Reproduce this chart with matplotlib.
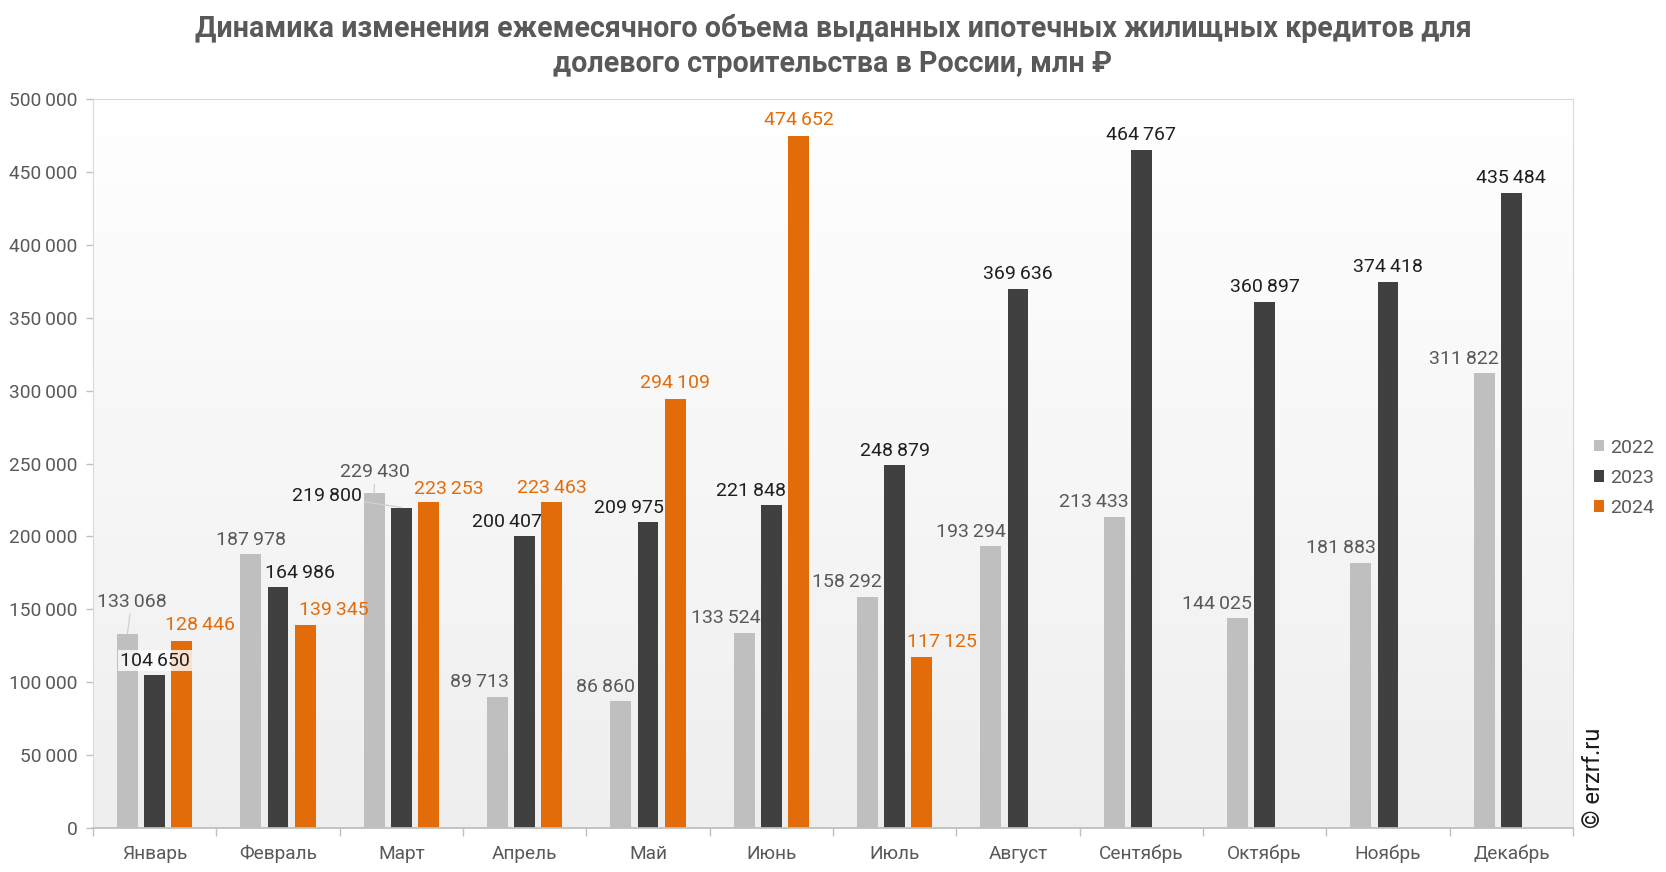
import numpy as np
import matplotlib
matplotlib.use("Agg")
import matplotlib.pyplot as plt

plt.rcParams['font.family'] = ['Roboto', 'DejaVu Sans']

months = ["Январь", "Февраль", "Март", "Апрель", "Май", "Июнь", "Июль",
          "Август", "Сентябрь", "Октябрь", "Ноябрь", "Декабрь"]
years = ["2022", "2023", "2024"]
v2022 = [133068, 187978, 229430, 89713, 86860, 133524, 158292,
         193294, 213433, 144025, 181883, 311822]
v2023 = [104650, 164986, 219800, 200407, 209975, 221848, 248879,
         369636, 464767, 360897, 374418, 435484]
v2024 = [128446, 139345, 223253, 223463, 294109, 474652, 117125]
yticks = [0, 50000, 100000, 150000, 200000, 250000, 300000, 350000, 400000, 450000, 500000]
title = ("Динамика изменения ежемесячного объема выданных ипотечных жилищных кредитов для\n"
         "долевого строительства в России, млн ₽")

bar_colors = ["#bfbfbf", "#404040", "#e36c0a"]
lbl_colors = ["#595959", "#1f1f1f", "#e36c0a"]

# label offsets (reference px, dx, dy) per series
off2022 = [(4, 30), (0, 13), (1, 20), (-17, 14.5), (-14, 13.5), (-17, 14.5), (-19, 14.5),
           (-19, 13.5), (-19, 13.5), (-19, 13.5), (-19, 13.5), (-19, 13.5)]
off2023 = [(0, 14), (21, 14), (-70, 11), (-17, 12.6), (-18, 13.5), (-19, 13), (0, 13),
           (0, 14), (0, 14), (0, 14), (0, 14), (0, 14)]
off2024 = [(17, 14.5), (27, 13.5), (19, 13), (0, 13), (0, 15), (0, 15), (19, 14)]
leader = {(0, 0), (2, 0), (2, 1)}

def fmt(v):
    return f"{v:,}".replace(",", "\u2009")

fig = plt.figure(figsize=(16.66, 8.72), dpi=100)
ax = fig.add_axes([93 / 1666, 1 - 828 / 872, (1573 - 93) / 1666, (828 - 99) / 872])

# gradient background
grad = np.linspace(1.0, 0.935, 256).reshape(-1, 1)
ax.imshow(np.dstack([grad, grad, grad]), extent=[0, 1, 0, 1], transform=ax.transAxes,
          aspect='auto', zorder=0, interpolation='bicubic')

x = np.arange(len(months))
step = 0.2214
width = 0.17
series = [v2022, v2023, v2024]
offs = [off2022, off2023, off2024]
k = 1.0625 * 0.72
for si, (vals, col) in enumerate(zip(series, bar_colors)):
    xs = x[:len(vals)] + (si - 1) * step
    ax.bar(xs, vals, width=width, color=col, zorder=2, label=years[si])
    for i, (xx, v) in enumerate(zip(xs, vals)):
        dx, dy = offs[si][i]
        kw = {}
        if (i, si) in leader:
            kw['arrowprops'] = dict(arrowstyle='-', color='#d0d0d0', lw=0.9,
                                    shrinkA=0, shrinkB=0)
        if (i, si) == (0, 1):
            kw['bbox'] = dict(boxstyle='square,pad=0.1', fc='white', ec='none', alpha=0.8)
        ax.annotate(fmt(v), (xx, v), xytext=(dx * k, dy * k), textcoords='offset points',
                    ha='center', va='center', fontsize=14, color=lbl_colors[si],
                    zorder=4, **kw)

ax.set_xlim(-0.5, 11.5)
ax.set_ylim(0, 500000)
ax.set_yticks(yticks)
ax.set_yticklabels([fmt(t) for t in yticks], fontsize=13.8, color="#595959")
ax.set_xticks(x)
ax.set_xticklabels(months, fontsize=13.7, color="#595959")
ax.tick_params(axis='x', length=0, pad=12)
ax.set_xticks(np.arange(-0.5, 12, 1), minor=True)
ax.tick_params(axis='x', which='minor', length=6, color='#bfbfbf', width=1)
ax.tick_params(axis='y', length=5, color='#bfbfbf', width=1, pad=6)
for s in ['top', 'right', 'left']:
    ax.spines[s].set_color('#d9d9d9')
ax.spines['bottom'].set_color('#bfbfbf')
ax.spines['bottom'].set_linewidth(1.3)
ax.set_axisbelow(True)

leg = fig.legend(loc='upper left', bbox_to_anchor=(1576 / 1666, 1 - 421 / 872),
                 frameon=False, fontsize=14, handlelength=0.55, handleheight=0.55,
                 handletextpad=0.3, labelspacing=0.62, labelcolor='#595959')

fig.text(833 / 1666, 1 - 46 / 872, title, ha='center', va='center', fontsize=20.6,
         fontweight='bold', color='#595959', linespacing=1.3)
fig.text(1594 / 1666, 1 - 828 / 872, "© erzrf.ru", rotation=90, ha='center', va='bottom',
         fontsize=17, color='#1a1a1a')

fig.savefig("out.png", dpi=100, facecolor='white')
